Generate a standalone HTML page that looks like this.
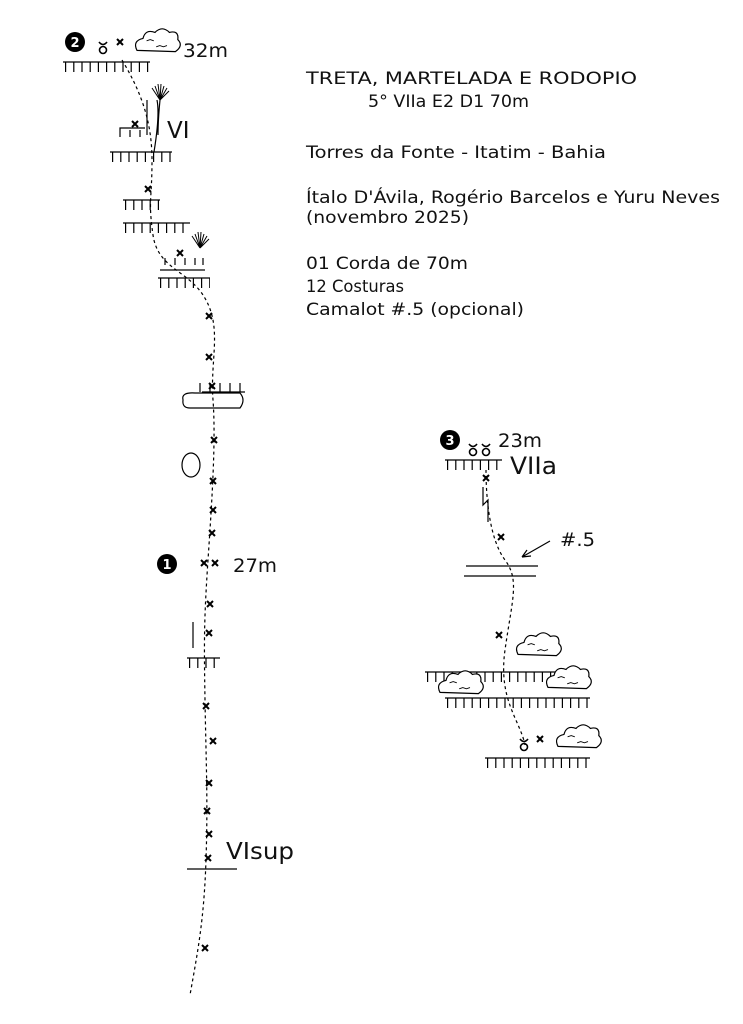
<!DOCTYPE html>
<html><head><meta charset="utf-8"><style>
body{margin:0;background:#fff}
svg{display:block}
text{font-family:"DejaVu Sans","Liberation Sans",sans-serif;fill:#111}
</style></head><body>
<svg width="743" height="1024" viewBox="0 0 743 1024" xmlns="http://www.w3.org/2000/svg">
<defs>
<g id="x"><path d="M-3,-3L3,3M3,-3L-3,3" stroke="#000" stroke-width="2"/></g>
<g id="r"><circle cx="0" cy="2" r="3.5" fill="none" stroke="#000" stroke-width="1.6"/><path d="M-4,-6Q0,-1 4,-6" fill="none" stroke="#000" stroke-width="1.6"/></g>
<g id="bush" transform="scale(1.2)"><path d="M0,12 q-4,-8 5,-10 q2,-8 10,-5 q6,-6 12,0 q8,-2 7,6 q5,5 -2,10 z" fill="#fff" stroke="#000" stroke-width="1"/><path d="M8,4 l3,-1 l3,1 M16,9 l3,-1 l3,1 l3,-1" fill="none" stroke="#000" stroke-width=".8"/></g>
<g id="plant" stroke="#000" stroke-width="1" fill="none"><path d="M0,0 L-8,-12 M0,0 L-5,-14 M0,0 L-2,-16 M0,0 L1,-16 M0,0 L4,-14 M0,0 L7,-12 M0,0 L9,-9"/></g>
</defs>
<g fill="none" stroke="#000" stroke-width="1.2">
<path d="M63,62H150M110,152H172M123,200H160M123,223H190M160,270H205M158,278H210M187,658H220M445,460H502M425,672H570M445,698H590M485,758H590"/>
<path d="M65,67H150M112,157H172M125,205H160M125,228H190M160,283H210M189,663H220M447,465H502M427,677H570M447,703H590M487,763H590" stroke-width="10" stroke-dasharray="1.2 7"/>
<path d="M165,265V258M175,265V258M185,265V258M195,265V258M203,265V258"/>
<path d="M120,137V128H145M130,137V130M140,137V130M147,135V100"/>
<path d="M183,400q-2,-8 12,-7h45q6,7 0,15h-50q-8,0 -7,-8z"/>
<path d="M200,392V383M210,392V383M220,392V383M230,392V383M240,392V383M202,392H245"/>
<ellipse cx="191" cy="465" rx="9" ry="12"/>
<path d="M193,622V648M187,869H237"/>
<path d="M483,487V505L488,500V522"/>
<path d="M466,566H538M464,576H536"/>
<path d="M550,541L522,557M522,557l9,-1M522,557l5,-7"/>
<path d="M157,100q3,15 -3,52M160,100q-2,20 -2,35"/>
</g>
<use href="#plant" x="160" y="100"/>
<use href="#plant" x="200" y="248"/>
<path d="M122,60C140,90 152,120 152,160S148,200 153,235S190,270 206,300S210,360 213,400S212,500 208,560S204,640 205,700S208,800 206,860S198,950 190,995" fill="none" stroke="#000" stroke-width="1.2" stroke-dasharray="3 3"/>
<path d="M486,470C486,500 490,540 505,560S512,600 505,650S520,720 525,745" fill="none" stroke="#000" stroke-width="1.2" stroke-dasharray="3 3"/>
<g>
<use href="#x" x="120" y="42"/><use href="#x" x="135" y="124"/><use href="#x" x="148" y="189"/><use href="#x" x="180" y="253"/>
<use href="#x" x="209" y="316"/><use href="#x" x="209" y="357"/><use href="#x" x="212" y="386"/><use href="#x" x="214" y="440"/>
<use href="#x" x="213" y="481"/><use href="#x" x="213" y="510"/><use href="#x" x="212" y="533"/><use href="#x" x="204" y="563"/><use href="#x" x="215" y="563"/>
<use href="#x" x="210" y="604"/><use href="#x" x="209" y="633"/><use href="#x" x="206" y="706"/><use href="#x" x="213" y="741"/>
<use href="#x" x="209" y="783"/><use href="#x" x="207" y="811"/><use href="#x" x="209" y="834"/><use href="#x" x="208" y="858"/><use href="#x" x="205" y="948"/>
<use href="#x" x="486" y="478"/><use href="#x" x="501" y="537"/><use href="#x" x="499" y="635"/><use href="#x" x="540" y="739"/>
<use href="#r" x="103" y="48"/><use href="#r" x="473" y="450"/><use href="#r" x="486" y="450"/><use href="#r" x="524" y="745"/>
<use href="#bush" x="137" y="36"/><use href="#bush" x="518" y="640"/><use href="#bush" x="440" y="678"/><use href="#bush" x="548" y="673"/><use href="#bush" x="558" y="732"/>
<circle cx="75" cy="42" r="10" fill="#000"/><text x="75" y="47" font-size="13" font-weight="bold" text-anchor="middle" style="fill:#fff">2</text>
<circle cx="167" cy="564" r="10" fill="#000"/><text x="167" y="569" font-size="13" font-weight="bold" text-anchor="middle" style="fill:#fff">1</text>
<circle cx="450" cy="440" r="10" fill="#000"/><text x="450" y="445" font-size="13" font-weight="bold" text-anchor="middle" style="fill:#fff">3</text>
</g>
<g lengthAdjust="spacingAndGlyphs">
<text x="183" y="57" font-size="19" textLength="45" lengthAdjust="spacingAndGlyphs">32m</text>
<text x="167" y="138" font-size="23">VI</text>
<text x="233" y="572" font-size="19" textLength="44" lengthAdjust="spacingAndGlyphs">27m</text>
<text x="226" y="859" font-size="23" textLength="68" lengthAdjust="spacingAndGlyphs">VIsup</text>
<text x="498" y="447" font-size="19" textLength="44" lengthAdjust="spacingAndGlyphs">23m</text>
<text x="510" y="474" font-size="24" textLength="47" lengthAdjust="spacingAndGlyphs">VIIa</text>
<text x="560" y="546" font-size="19" textLength="35" lengthAdjust="spacingAndGlyphs">#.5</text>
</g>
<g font-size="17">
<text x="306" y="84" textLength="331" lengthAdjust="spacingAndGlyphs">TRETA, MARTELADA E RODOPIO</text>
<text x="368" y="107" textLength="161" lengthAdjust="spacingAndGlyphs">5° VIIa E2 D1 70m</text>
<text x="306" y="158" textLength="300" lengthAdjust="spacingAndGlyphs">Torres da Fonte - Itatim - Bahia</text>
<text x="306" y="203" textLength="414" lengthAdjust="spacingAndGlyphs">Ítalo D'Ávila, Rogério Barcelos e Yuru Neves</text>
<text x="306" y="223" textLength="163" lengthAdjust="spacingAndGlyphs">(novembro 2025)</text>
<text x="306" y="269" textLength="162" lengthAdjust="spacingAndGlyphs">01 Corda de 70m</text>
<text x="306" y="292" textLength="98" lengthAdjust="spacingAndGlyphs">12 Costuras</text>
<text x="306" y="315" textLength="218" lengthAdjust="spacingAndGlyphs">Camalot #.5 (opcional)</text>
</g>
</svg>
</body></html>
